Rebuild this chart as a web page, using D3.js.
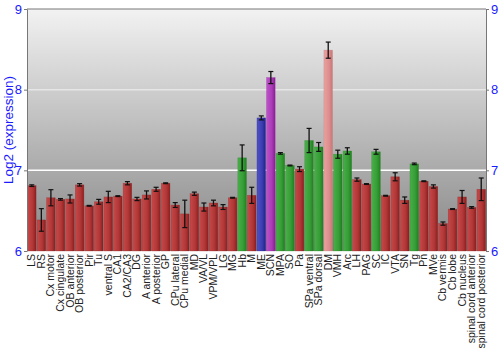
<!DOCTYPE html>
<html><head><meta charset="utf-8">
<script src="https://cdn.jsdelivr.net/npm/d3@7"></script>
<style>body{margin:0;background:#fff}svg{display:block}</style>
</head><body>
<svg id="c" width="500" height="350"></svg>
<script>
const categories = ["LS","RS","Cx motor","Cx cingulate","OB anterior","OB posterior","Pir","Tu","ventral S","CA1","CA2/CA3","DG","A anterior","A posterior","GP","CPu lateral","CPu medial","MD","VA/VL","VPM/VPL","LG","MG","Hb","M","ME","SCN","MPA","SO","Pa","SPa ventral","SPa dorsal","DM","VMH","Arc","LH","PAG","SC","IC","VTA","SN","Tg","Pn","MVe","Cb vermis","Cb lobe","Cb nucleus","spinal cord anterior","spinal cord posterior"];
const values = [6.81,6.385,6.66,6.64,6.645,6.82,6.56,6.61,6.67,6.68,6.84,6.645,6.695,6.765,6.84,6.57,6.46,6.71,6.545,6.595,6.545,6.66,7.155,6.69,7.65,8.15,7.21,7.06,7.015,7.37,7.29,8.49,7.2,7.24,6.885,6.83,7.23,6.685,6.92,6.63,7.08,6.865,6.8,6.34,6.52,6.67,6.54,6.765];
const errors = [0.01,0.14,0.1,0.01,0.05,0.015,0.005,0.03,0.07,0.005,0.02,0.02,0.05,0.025,0.005,0.03,0.17,0.02,0.05,0.035,0.03,0.005,0.16,0.1,0.025,0.075,0.01,0.005,0.03,0.15,0.055,0.1,0.05,0.04,0.02,0.005,0.03,0.005,0.05,0.04,0.01,0.005,0.02,0.02,0.005,0.08,0.01,0.14];
const groups = ["r","r","r","r","r","r","r","r","r","r","r","r","r","r","r","r","r","r","r","r","r","r","g","r","b","p","g","g","r","g","g","k","g","g","r","r","g","r","r","r","g","r","r","r","r","r","r","r"];
const yTicks = [6,7,8,9];

const colors = {r:["#c84848","#8e1e1e"], g:["#48b048","#1e801e"], b:["#5050c8","#20208e"], p:["#c050cc","#8a1e96"], k:["#eaa0a0","#c87474"]};

const svg = d3.select("#c");
const L=27, R=486, T=9, B=251;
const x = d3.scaleBand().domain(categories).range([L,R]).paddingInner(0.1).paddingOuter(0.05);
const y = d3.scaleLinear().domain([6,9]).range([B,T]);

const defs = svg.append("defs");
const bg = defs.append("linearGradient").attr("id","bg").attr("x1",0).attr("y1",0).attr("x2",0).attr("y2",1);
bg.append("stop").attr("offset","0%").attr("stop-color","#f2f2f2");
bg.append("stop").attr("offset","100%").attr("stop-color","#868686");
Object.entries(colors).forEach(([k,c])=>{
  const g = defs.append("linearGradient").attr("id","g"+k).attr("x1",0).attr("y1",0).attr("x2",1).attr("y2",0);
  g.append("stop").attr("offset","0%").attr("stop-color",c[0]);
  g.append("stop").attr("offset","60%").attr("stop-color",d3.interpolateRgb(c[0],c[1])(0.4));
  g.append("stop").attr("offset","100%").attr("stop-color",c[1]);
});

svg.append("rect").attr("x",L).attr("y",T).attr("width",R-L).attr("height",B-T).attr("fill","url(#bg)");

// gridlines
svg.selectAll(".grid").data(yTicks.filter(t=>t>6&&t<9)).enter().append("line")
  .attr("x1",L).attr("x2",R).attr("y1",d=>y(d)).attr("y2",d=>y(d))
  .attr("stroke",d=>d===7?"#ffffff":"#e6e6e6").attr("stroke-width",1.5);

// bars
svg.selectAll(".bar").data(categories).enter().append("rect")
  .attr("x",d=>x(d)).attr("width",x.bandwidth())
  .attr("y",(d,i)=>y(values[i])).attr("height",(d,i)=>B-y(values[i]))
  .attr("fill",(d,i)=>"url(#g"+groups[i]+")")
  .attr("stroke",(d,i)=>colors[groups[i]][1]).attr("stroke-opacity",0.5).attr("stroke-width",0.5);

// error bars
const eb = svg.selectAll(".eb").data(categories).enter().append("g");
eb.append("line").attr("x1",d=>x(d)+x.bandwidth()/2).attr("x2",d=>x(d)+x.bandwidth()/2)
  .attr("y1",(d,i)=>y(values[i]+errors[i])).attr("y2",(d,i)=>y(values[i]-errors[i]))
  .attr("stroke","#111").attr("stroke-width",1.3);
[1,-1].forEach(s=>{
  eb.append("line").attr("x1",d=>x(d)+x.bandwidth()/2-2.5).attr("x2",d=>x(d)+x.bandwidth()/2+2.5)
    .attr("y1",(d,i)=>y(values[i]+s*errors[i])).attr("y2",(d,i)=>y(values[i]+s*errors[i]))
    .attr("stroke","#111").attr("stroke-width",1.2);
});

// frame
svg.append("line").attr("x1",L).attr("x2",R).attr("y1",T).attr("y2",T).attr("stroke","#777");
const yl = svg.append("g").attr("transform",`translate(${L},0)`).call(d3.axisLeft(y).tickValues(yTicks).tickSize(3).tickSizeOuter(0).tickFormat(d3.format("d")));
const yr = svg.append("g").attr("transform",`translate(${R},0)`).call(d3.axisRight(y).tickValues(yTicks).tickSize(3).tickSizeOuter(0).tickFormat(d3.format("d")));
[yl,yr].forEach(a=>{
  a.select(".domain").attr("stroke","#777");
  a.selectAll(".tick line").attr("stroke","#777");
  a.selectAll(".tick text").attr("fill","#1a1aff").style("font-family","Liberation Sans, Arial, sans-serif").style("font-size","13px");
});
yl.selectAll(".tick text").attr("x",-5);
yr.selectAll(".tick text").attr("x",5);

// x labels
svg.selectAll(".xl").data(categories).enter().append("text")
  .attr("transform",d=>`translate(${x(d)+x.bandwidth()/2+3.5},${B+3}) rotate(-90)`)
  .attr("text-anchor","end").attr("fill","#222")
  .style("font-family","Liberation Sans, Arial, sans-serif").style("font-size","10.5px")
  .text(d=>d);

// y title
svg.append("text").attr("transform",`translate(13,${(T+B)/2}) rotate(-90)`)
  .attr("text-anchor","middle").attr("fill","#1a1aff")
  .style("font-family","Liberation Sans, Arial, sans-serif").style("font-size","13.5px")
  .text("Log2 (expression)");
</script>
</body></html>
